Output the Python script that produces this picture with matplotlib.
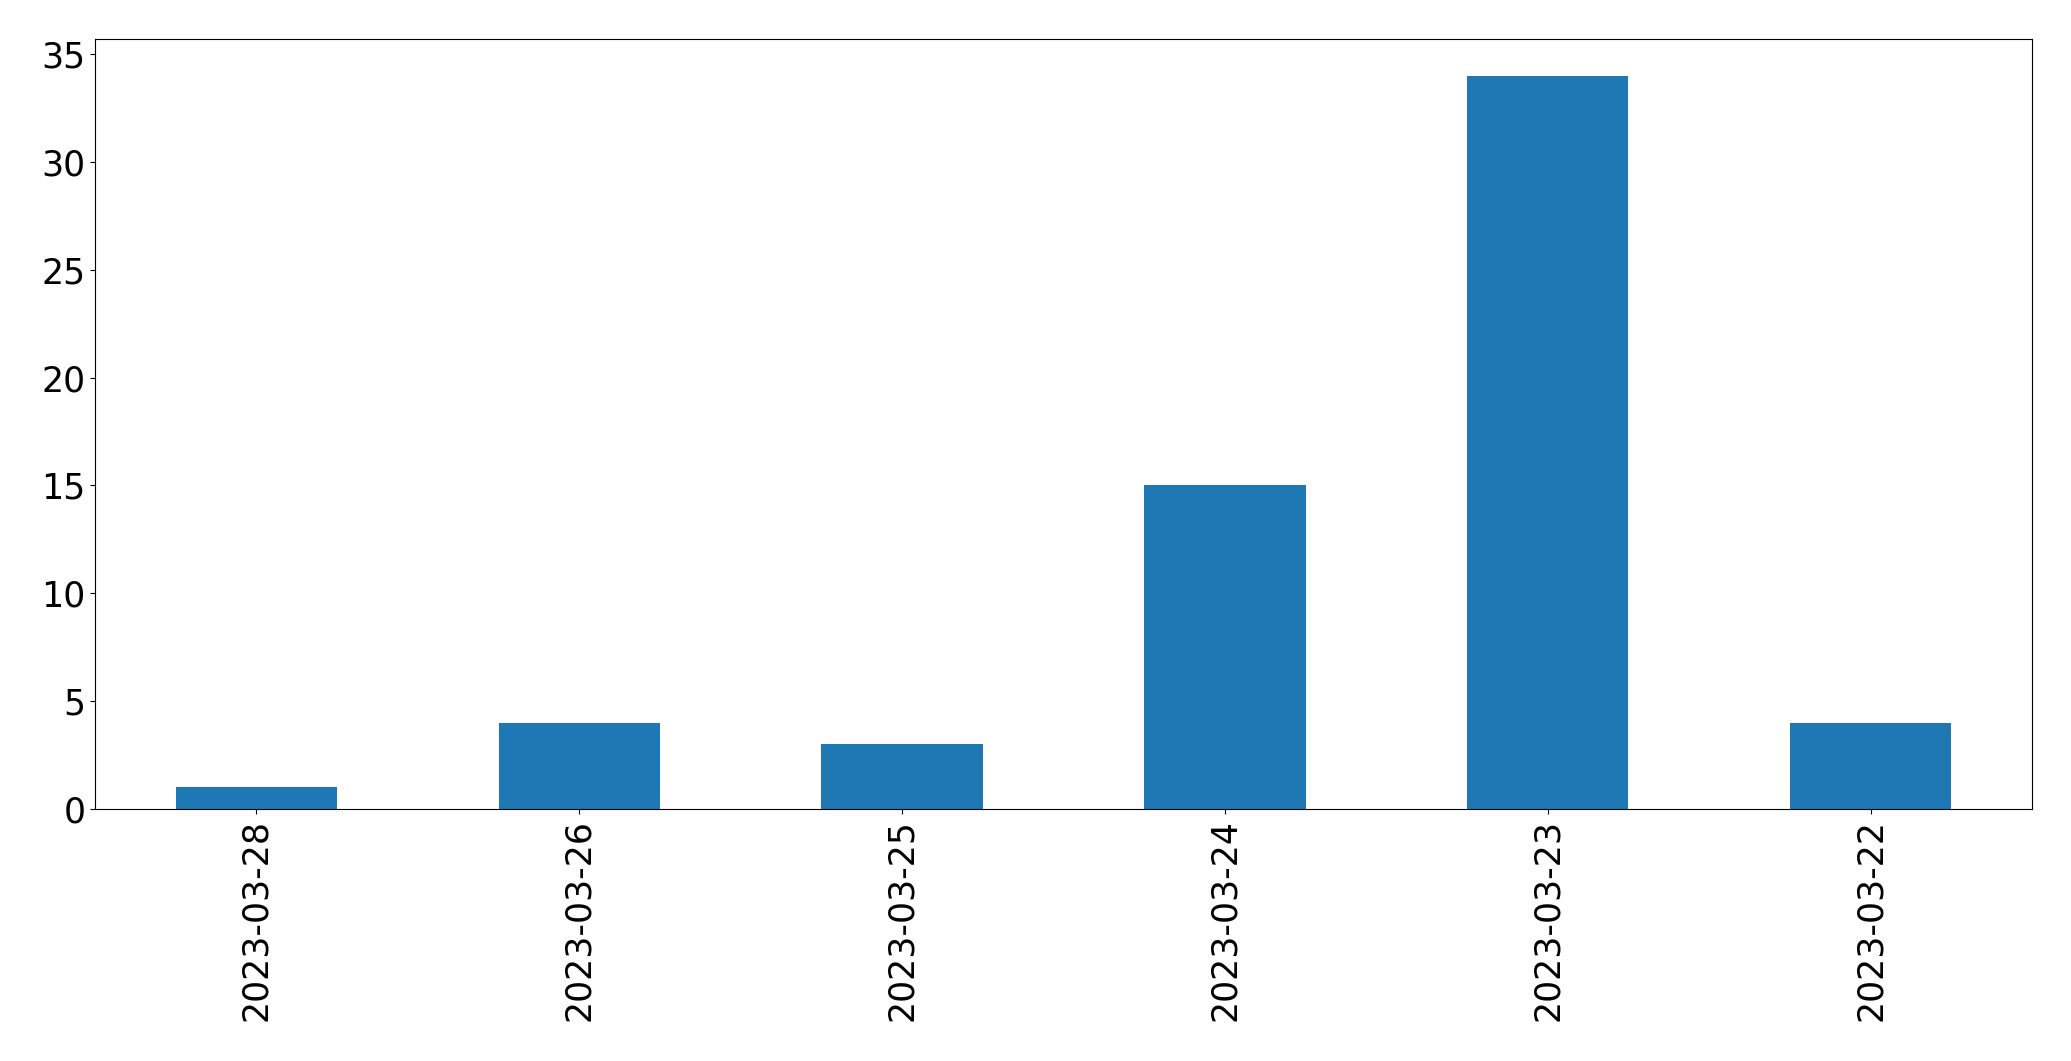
import matplotlib
matplotlib.use("Agg")
import matplotlib.pyplot as plt
import pandas as pd

dates = ["2023-03-28", "2023-03-26", "2023-03-25", "2023-03-24", "2023-03-23", "2023-03-22"]
counts = [1, 4, 3, 15, 34, 4]

s = pd.Series(counts, index=dates)

fig = plt.figure(figsize=(20.71, 10.61), dpi=100)
ax = fig.add_axes([95/2071, 1-809/1061, (2032-95)/2071, (809-39)/1061])
s.plot(kind="bar", ax=ax, color="#1f77b4", fontsize=25)
ax.tick_params(axis="x", labelrotation=90)

fig.savefig("out.png", dpi=100)
